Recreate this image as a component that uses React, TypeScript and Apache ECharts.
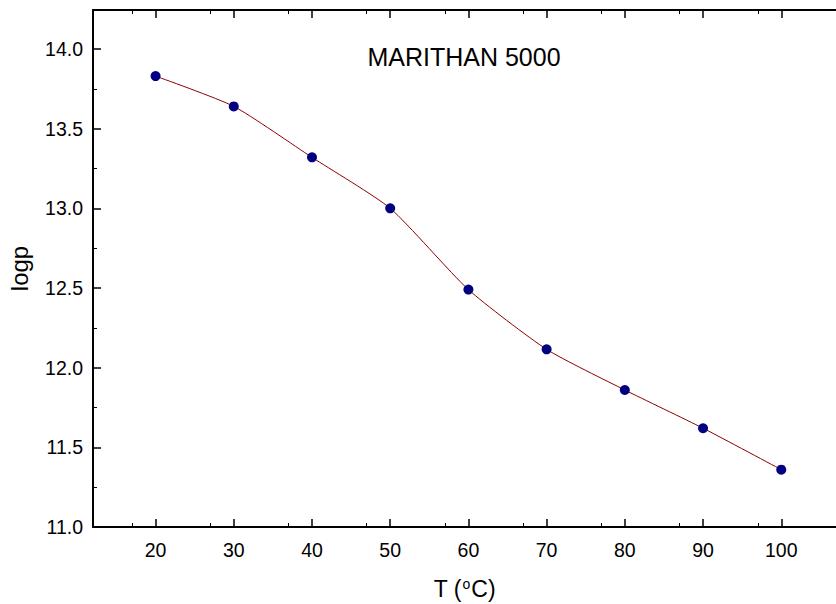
import React, { useEffect, useRef } from "react";
import * as echarts from "echarts";

const temperatures = [20, 30, 40, 50, 60, 70, 80, 90, 100];
const logpValues = [13.83, 13.64, 13.32, 13.0, 12.49, 12.115, 11.86, 11.62, 11.36];
const yTicks = [11.0, 11.5, 12.0, 12.5, 13.0, 13.5, 14.0];
const chartTitle = "MARITHAN 5000";

export default function App() {
  const ref = useRef<HTMLDivElement>(null);
  useEffect(() => {
    if (!ref.current) return;
    const chart = echarts.init(ref.current, undefined, { renderer: "svg" });
    const font = "Liberation Sans, Arial, sans-serif";
    const axisLine = { show: true, onZero: false, lineStyle: { color: "#000", width: 2 } };
    chart.setOption({
      animation: false,
      grid: { left: 93, right: 0, top: 10, bottom: 77, containLabel: false, outerBoundsMode: "none" },
      graphic: [
        {
          type: "text",
          x: 464,
          y: 57,
          style: { text: chartTitle, fontSize: 25, fontFamily: font, fill: "#000", align: "center", verticalAlign: "middle" },
        },
      ],
      xAxis: [
        {
          type: "value",
          min: 12,
          max: 107,
          interval: 10,
          position: "bottom",
          axisLine,
          axisTick: { show: true, inside: true, length: 8, lineStyle: { color: "#000", width: 1.5 }, customValues: temperatures },
          minorTick: { show: true, splitNumber: 2, length: 4, lineStyle: { color: "#000", width: 1 } },
          axisLabel: { customValues: temperatures, fontSize: 19.5, fontFamily: font, color: "#000", margin: 13 },
          splitLine: { show: false },
          name: "T ({s|o}C)",
          nameLocation: "middle",
          nameGap: 50,
          nameTextStyle: {
            fontSize: 23,
            fontFamily: font,
            color: "#000",
            rich: { s: { fontSize: 14, fontFamily: font, color: "#000", verticalAlign: "top", padding: [0, 1, 8, 1] } },
          },
        },
        {
          type: "value",
          min: 12,
          max: 107,
          interval: 10,
          position: "top",
          axisLine,
          axisTick: { show: true, inside: true, length: 8, lineStyle: { color: "#000", width: 1.5 }, customValues: temperatures },
          minorTick: { show: true, splitNumber: 2, length: 4, lineStyle: { color: "#000", width: 1 } },
          axisLabel: { show: false },
          splitLine: { show: false },
        },
      ],
      yAxis: {
        type: "value",
        min: 11,
        max: 14.245,
        interval: 0.5,
        axisLine,
        axisTick: { show: true, inside: true, length: 8, lineStyle: { color: "#000", width: 1.5 }, customValues: yTicks },
        minorTick: { show: true, splitNumber: 2, length: 4, lineStyle: { color: "#000", width: 1 } },
        axisLabel: {
          customValues: yTicks,
          formatter: (v: number) => v.toFixed(1),
          fontSize: 19.5,
          fontFamily: font,
          color: "#000",
          margin: 10,
        },
        splitLine: { show: false },
        name: "logp",
        nameLocation: "middle",
        nameGap: 62,
        nameRotate: 90,
        nameTextStyle: { fontSize: 24, fontFamily: font, color: "#000" },
      },
      series: [
        {
          type: "line",
          xAxisIndex: 0,
          data: temperatures.map((t, i) => [t, logpValues[i]]),
          smooth: 0.2,
          symbol: "circle",
          symbolSize: 10,
          lineStyle: { color: "#8b0000", width: 1 },
          itemStyle: { color: "#000080" },
        },
      ],
    });
    return () => chart.dispose();
  }, []);
  return <div ref={ref} style={{ width: 836, height: 604, position: "absolute", left: 0, top: 0 }} />;
}
